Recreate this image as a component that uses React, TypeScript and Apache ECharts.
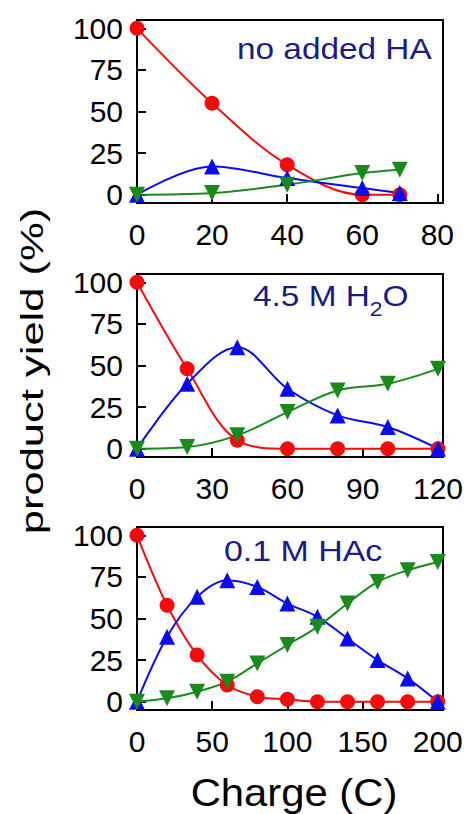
import React, { useEffect, useRef } from "react";
import * as echarts from "echarts";

const FONT = "'Liberation Sans', Arial, Helvetica, sans-serif";
const RED = "#f20c0c";
const BLUE = "#0b0bf0";
const GREEN = "#1a8a1a";
const NAVY = "#1b1b88";

// Charge passed (C) at each sampling point
const chargeNoAcid = [0, 20, 40, 60, 70];
const chargeWater = [0, 20, 40, 60, 80, 100, 120];
const chargeHAc = [0, 20, 40, 60, 80, 100, 120, 140, 160, 180, 200];

// Product yields (%) — no added HA
const redNoAcid = [100, 55, 18, 0, 0];
const blueNoAcid = [0, 17, 10, 4, 1];
const greenNoAcid = [0, 1, 6, 13, 15];

// Product yields (%) — 4.5 M H2O
const redWater = [100, 48, 5, 0, 0, 0, 0];
const blueWater = [0, 39, 61, 36, 20, 13, 0];
const greenWater = [0, 1, 8, 22, 35, 39, 48];

// Product yields (%) — 0.1 M HAc
const redHAc = [100, 58, 28, 10, 3, 1.5, 0, 0, 0, 0, 0];
const blueHAc = [0, 39, 63, 73, 69, 59, 51, 38, 25, 14, 0];
const greenHAc = [0, 2, 6, 12, 23, 34, 45, 59, 72, 79, 84];

// Tick labels
const yTicks = [0, 25, 50, 75, 100];
const xTicksNoAcid = [0, 20, 40, 60, 80];
const xTicksWater = [0, 30, 60, 90, 120];
const xTicksHAc = [0, 50, 100, 150, 200];
const xMaxes = [81.5, 122, 203.5];

const panels = [
  { x: chargeNoAcid, red: redNoAcid, blue: blueNoAcid, green: greenNoAcid, ticks: xTicksNoAcid, top: 20 },
  { x: chargeWater, red: redWater, blue: blueWater, green: greenWater, ticks: xTicksWater, top: 274 },
  { x: chargeHAc, red: redHAc, blue: blueHAc, green: greenHAc, ticks: xTicksHAc, top: 527 },
];

const measureCtx = document.createElement("canvas").getContext("2d");
function textWidth(s: string, size: number): number {
  if (!measureCtx) return s.length * size * 0.55;
  measureCtx.font = `${size}px ${FONT}`;
  return measureCtx.measureText(s).width;
}

type Part = { text: string; sub?: boolean };
function annotation(parts: Part[], x: number, y: number, scale: number) {
  let cx = 0;
  const children = parts.map((p) => {
    const size = p.sub ? 20 : 29;
    const el = {
      type: "text",
      x: cx,
      y: p.sub ? 13 : 0,
      style: {
        text: p.text,
        font: `${size}px ${FONT}`,
        fill: NAVY,
        textAlign: "left",
        textVerticalAlign: "middle",
      },
    };
    cx += textWidth(p.text, size);
    return el;
  });
  return { type: "group", x, y, scaleX: scale, children };
}

export default function App() {
  const ref = useRef<HTMLDivElement>(null);

  useEffect(() => {
    document.body.style.margin = "0";
    if (!ref.current) return;
    const chart = echarts.init(ref.current, null, { renderer: "svg" });

    const axisLineStyle = { color: "#000", width: 2 };
    const grid = panels.map((p) => ({
      left: 137,
      right: 28,
      top: p.top,
      height: 183,
      show: true,
      borderColor: "#000",
      borderWidth: 2,
      backgroundColor: "transparent",
    }));

    const xAxis = panels.map((p, i) => ({
      type: "value",
      gridIndex: i,
      min: 0,
      max: xMaxes[i],
      axisLine: { show: true, onZero: false, lineStyle: axisLineStyle },
      axisTick: { show: true, inside: true, length: 9, customValues: p.ticks, lineStyle: axisLineStyle },
      axisLabel: {
        customValues: p.ticks,
        fontSize: 30,
        fontFamily: FONT,
        color: "#000",
        margin: 16,
      },
      splitLine: { show: false },
    }));

    const yAxis = panels.map((_, i) => ({
      type: "value",
      gridIndex: i,
      min: -5,
      max: 105,
      axisLine: { show: true, onZero: false, lineStyle: axisLineStyle },
      axisTick: { show: true, inside: true, length: 9, customValues: yTicks, lineStyle: axisLineStyle },
      axisLabel: {
        customValues: yTicks,
        fontSize: 30,
        fontFamily: FONT,
        color: "#000",
        margin: 14,
      },
      splitLine: { show: false },
    }));

    const mk = (xs: number[], ys: number[], idx: number, color: string, symbol: string, rotate: number) => ({
      type: "line",
      xAxisIndex: idx,
      yAxisIndex: idx,
      data: xs.map((x, k) => [x, ys[k]]),
      smooth: 0.35,
      symbol,
      symbolSize: symbol === "circle" ? 15 : 16,
      symbolRotate: rotate,
      showAllSymbol: true,
      clip: false,
      itemStyle: { color },
      lineStyle: { color, width: 2 },
      emphasis: { disabled: true },
    });

    const series: any[] = [];
    panels.forEach((p, i) => {
      series.push(mk(p.x, p.red, i, RED, "circle", 0));
      series.push(mk(p.x, p.blue, i, BLUE, "triangle", 0));
      series.push(mk(p.x, p.green, i, GREEN, "triangle", 180));
    });

    const graphic = [
      annotation([{ text: "no added HA" }], 237, 49, 1.15),
      annotation([{ text: "4.5 M H" }, { text: "2", sub: true }, { text: "O" }], 253, 296, 1.15),
      annotation([{ text: "0.1 M HAc" }], 224, 551, 1.17),
      {
        type: "text",
        x: 32,
        y: 371,
        rotation: Math.PI / 2,
        scaleX: 1.36,
        style: {
          text: "product yield (%)",
          font: `32px ${FONT}`,
          fill: "#000",
          textAlign: "center",
          textVerticalAlign: "middle",
        },
      },
      {
        type: "text",
        x: 294,
        y: 793,
        scaleX: 1.1,
        style: {
          text: "Charge (C)",
          font: `38px ${FONT}`,
          fill: "#000",
          textAlign: "center",
          textVerticalAlign: "middle",
        },
      },
    ];

    chart.setOption({
      animation: false,
      backgroundColor: "#fff",
      grid,
      xAxis,
      yAxis,
      series,
      graphic,
    });

    return () => chart.dispose();
  }, []);

  return <div ref={ref} style={{ width: 471, height: 814 }} />;
}
